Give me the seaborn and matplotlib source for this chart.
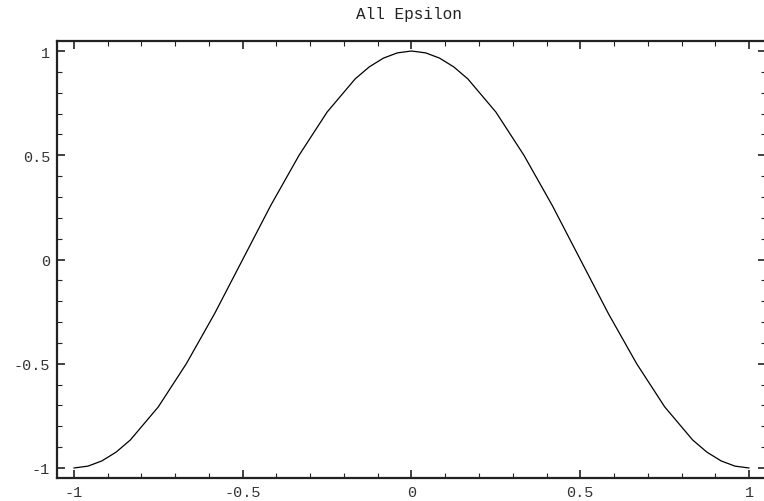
import matplotlib
matplotlib.use("Agg")
import matplotlib.pyplot as plt
from matplotlib.ticker import MultipleLocator, FixedLocator
import numpy as np
import pandas as pd
import seaborn as sns

# points of the curve
x_vals = [-1.0, -0.958, -0.917, -0.875, -0.833, -0.75, -0.667, -0.583, -0.5,
          -0.417, -0.333, -0.25, -0.167, -0.125, -0.083, -0.042, 0.0,
          0.042, 0.083, 0.125, 0.167, 0.25, 0.333, 0.417, 0.5,
          0.583, 0.667, 0.75, 0.833, 0.875, 0.917, 0.958, 1.0]
y_vals = [-1.0, -0.991, -0.966, -0.924, -0.866, -0.707, -0.5, -0.259, 0.0,
          0.259, 0.5, 0.707, 0.866, 0.924, 0.966, 0.991, 1.0,
          0.991, 0.966, 0.924, 0.866, 0.707, 0.5, 0.259, 0.0,
          -0.259, -0.5, -0.707, -0.866, -0.924, -0.966, -0.991, -1.0]
major_ticks = [-1, -0.5, 0, 0.5, 1]
tick_labels = ["-1", "-0.5", "0", "0.5", "1"]
title = "All Epsilon"

sns.set_style("ticks")
plt.rcParams["font.family"] = ["Liberation Mono", "DejaVu Sans Mono"]

df = pd.DataFrame({"x": x_vals, "y": y_vals})

fig = plt.figure(figsize=(7.64, 5.02), dpi=100)
ax = fig.add_axes([57 / 764, 23 / 502, 709 / 764, 437 / 502])
sns.lineplot(data=df, x="x", y="y", ax=ax, color="black", linewidth=0.9,
             estimator=None, sort=False)

ax.set_xlim(-1.05, 1.05)
ax.set_ylim(-1.048, 1.048)
ax.set_xlabel("")
ax.set_ylabel("")

for axis in (ax.xaxis, ax.yaxis):
    axis.set_major_locator(FixedLocator(major_ticks))
    axis.set_minor_locator(MultipleLocator(0.1))
ax.set_xticklabels(tick_labels)
ax.set_yticklabels(tick_labels)

ax.tick_params(which="both", direction="in", top=True, right=True,
               colors="#222222", labelsize=11, labelcolor="#333333")
ax.tick_params(which="major", length=6, width=1.2, pad=5)
ax.tick_params(which="minor", length=3.5, width=0.8)

for side in ("left", "bottom", "top", "right"):
    ax.spines[side].set_linewidth(1.6)
    ax.spines[side].set_color("#222222")

fig.text(0.5 * (57 + 766) / 764 - 0.003, 1 - 14 / 502, title, ha="center",
         va="center", fontsize=11.5, color="#222222")

fig.savefig("out.png", dpi=100)
